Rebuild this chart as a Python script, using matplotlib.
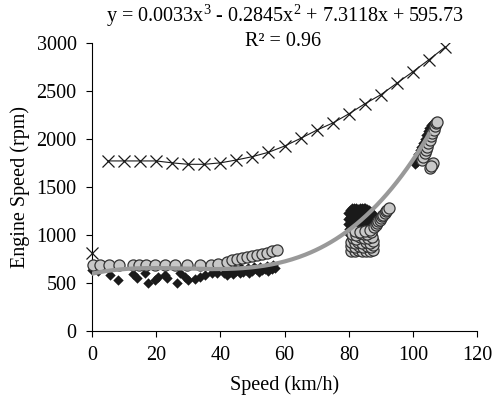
import matplotlib.pyplot as plt
import numpy as np

plt.rcParams["font.family"] = ["Liberation Serif", "DejaVu Serif"]
plt.rcParams["mathtext.fontset"] = "custom"
plt.rcParams["mathtext.rm"] = "Liberation Serif"

# Gear-limited run: engine speed at each vehicle speed
cross_speed = [5, 10, 15, 20, 25, 30, 35, 40, 45, 50, 55, 60, 65, 70, 75, 80, 85, 90, 95, 100, 105, 110]
cross_rpm = [1770, 1770, 1770, 1770, 1750, 1735, 1735, 1750, 1780, 1815, 1860, 1925, 2005, 2090, 2165,
             2260, 2365, 2460, 2580, 2700, 2825, 2955]
idle_speed = [0]
idle_rpm = [810]

# Measured samples (black diamonds)
dia_speed = [0, 2, 5.6, 8.2, 12.9, 13.9, 16.5, 17.6, 19.6, 20.7, 22.8, 23.3, 26.4, 27.4, 29.0, 30.0,
             32.1, 33.7, 35.2, 37.3, 38.9, 41, 42, 43, 44, 45, 46, 47, 48, 49, 50, 51, 52, 53, 54,
             55, 56, 57, 44.5, 46.5, 48.5, 50.5, 52.5, 54.5, 56.5,
             79.8, 80.4, 81.0, 81.6, 82.2, 82.8, 83.4, 84.0, 84.6, 85.2, 85.8, 86.4, 87.0, 87.5,
             79.8, 80.4, 81.0, 81.6, 82.2, 82.8, 83.4, 84.0, 84.6, 85.2, 85.8, 86.4, 87.0, 87.5,
             79.8, 80.4, 81.0, 81.6, 82.2, 82.8, 83.4, 84.0, 84.6, 85.2, 85.8, 86.4, 87.0, 87.5,
             80.0, 80.8, 81.6, 82.4, 83.2, 84.0, 84.8, 85.6, 86.4, 87.2,
             80.2, 81.2, 82.2, 83.2, 84.2, 85.2, 86.2, 87.2,
             100.6, 101.1, 101.6, 102.1, 102.6, 103.1, 103.6, 104.1, 104.6, 105.1, 105.6, 106.1,
             101.4, 101.9, 102.4, 102.9, 103.4, 103.9]
dia_rpm = [630, 620, 583, 531, 594, 549, 601, 503, 531, 559, 583, 549, 503, 601, 559, 531,
           538, 559, 583, 601, 608, 600, 585, 610, 595, 620, 600, 615, 630, 605, 620, 640, 615, 630, 645,
           625, 640, 650, 640, 655, 650, 665, 670, 680, 690,
           1230, 1255, 1275, 1285, 1280, 1270, 1285, 1280, 1275, 1280, 1270, 1260, 1240, 1220,
           1170, 1190, 1200, 1210, 1215, 1220, 1225, 1215, 1210, 1220, 1215, 1205, 1190, 1170,
           1110, 1120, 1140, 1150, 1160, 1160, 1165, 1160, 1155, 1160, 1150, 1140, 1130, 1110,
           1060, 1070, 1080, 1090, 1100, 1100, 1100, 1095, 1090, 1080,
           1010, 1020, 1030, 1040, 1040, 1035, 1030, 1020,
           1740, 1790, 1840, 1880, 1920, 1960, 2000, 2040, 2080, 2110, 2140, 2160,
           1760, 1800, 1830, 1860, 1890, 1920]

# Measured samples (grey circles)
circ_speed = [0.2, 2.5, 5.4, 8.5, 12.9, 14.8, 17.0, 19.6, 22.8, 25.9, 29.5, 33.7, 37.0, 39.4, 42.0,
              43.5, 45.1, 46.6, 48.2, 49.8, 51.3, 52.9, 54.4, 56.0, 57.6,
              80.6, 81.8, 83.0, 84.2, 85.4, 86.6, 87.6,
              80.8, 82.0, 83.2, 84.4, 85.6, 86.8, 87.6,
              80.6, 81.8, 83.0, 84.2, 85.4, 86.6, 87.6,
              81.2, 82.4, 83.6, 84.8, 86.0, 87.2,
              81.0, 82.2, 83.4, 84.6, 85.8, 87.0,
              82.0, 83.5, 85.0, 86.5,
              88.0, 88.4, 88.8, 89.2, 89.6, 90.0, 90.4, 90.8, 91.2, 91.6, 92.0, 92.4,
              102.8, 103.2, 103.6, 104.0, 104.4, 104.8, 105.2, 105.6, 106.0, 106.4, 106.8, 107.2, 107.4,
              105.3, 105.9, 106.1, 105.6]
circ_rpm = [688, 688, 688, 688, 688, 688, 688, 688, 688, 688, 688, 688, 690, 700, 722,
            735, 746, 760, 774, 782, 791, 803, 816, 830, 844,
            835, 830, 838, 832, 836, 830, 840,
            880, 872, 885, 875, 882, 870, 890,
            925, 918, 930, 920, 928, 915, 935,
            970, 962, 975, 965, 972, 980,
            1010, 1000, 1015, 1005, 1012, 1025,
            1040, 1030, 1045, 1050,
            1086, 1104, 1122, 1140, 1158, 1176, 1194, 1212, 1230, 1248, 1264, 1278,
            1781, 1815, 1850, 1885, 1920, 1955, 1990, 2025, 2060, 2095, 2130, 2160, 2180,
            1700, 1729, 1750, 1715]

# Cubic fit shown in the header
coef = [0.0033, -0.2845, 7.3118, 595.73]
fit_speed = np.linspace(0, 105, 200)
fit_rpm = np.polyval(coef, fit_speed)

fig = plt.figure(figsize=(4.94, 4.08), dpi=100)
ax = fig.add_axes([0.186, 0.189, 0.78, 0.706])

ax.scatter(dia_speed, dia_rpm, marker="D", s=28, color="#1a1a1a", linewidths=0, zorder=2, clip_on=False)
ax.scatter(circ_speed, circ_rpm, marker="o", s=64, facecolor="#c8c8c8", edgecolor="#333333",
           linewidths=0.9, zorder=3, clip_on=False)
ax.plot(fit_speed, fit_rpm, color="#999999", lw=3, zorder=4)
ax.plot(cross_speed, cross_rpm, color="#1a1a1a", lw=0.8, marker="x", ms=8, mew=0.9, zorder=5)
ax.plot(idle_speed, idle_rpm, ls="none", color="#1a1a1a", marker="x", ms=8, mew=0.9, zorder=5, clip_on=False)

ax.set_xlim(0, 120)
ax.set_ylim(0, 3000)
ax.set_xticks(range(0, 121, 20))
ax.set_yticks(range(0, 3001, 500))
ax.spines["top"].set_visible(False)
ax.spines["right"].set_visible(False)
ax.tick_params(direction="out", length=4, width=0.8, pad=7, labelsize=14.5)
ax.set_xlabel("Speed (km/h)", fontsize=14.5, labelpad=7)
ax.set_ylabel("Engine Speed (rpm)", fontsize=14.5, labelpad=5)

fig.text(0.577, 0.962, "y = 0.0033x$^3$ - 0.2845x$^2$ + 7.3118x + 595.73", ha="center", va="center", fontsize=14.5)
fig.text(0.573, 0.898, "R² = 0.96", ha="center", va="center", fontsize=14.5)

fig.savefig("out.png", dpi=100)
